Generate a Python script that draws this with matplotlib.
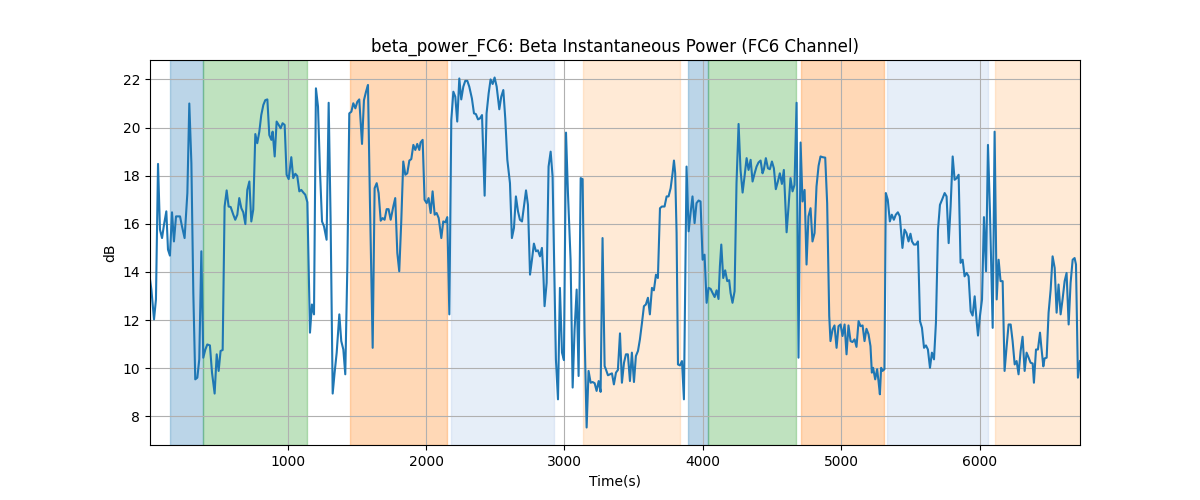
import numpy as np
import matplotlib
matplotlib.use("Agg")
import matplotlib.pyplot as plt

# Beta power trace (time in s, power in dB)
times = [5, 15, 34, 48, 63, 77, 92, 106, 123, 135, 149, 164, 178, 193, 222, 236, 255, 275, 289, 304,
         318, 332, 347, 361, 376, 390, 405, 419, 438, 453, 472, 487, 501, 515, 530, 544, 559, 573, 588, 607,
         621, 636, 650, 665, 679, 694, 708, 723, 737, 751, 766, 780, 795, 809, 824, 838, 853, 867, 882, 891,
         906, 920, 935, 949, 963, 978, 992, 1007, 1026, 1040, 1055, 1069, 1084, 1098, 1113, 1127, 1142, 1161, 1175, 1190,
         1204, 1219, 1233, 1248, 1262, 1281, 1296, 1310, 1325, 1339, 1354, 1373, 1387, 1402, 1416, 1431, 1445, 1460, 1474, 1489,
         1503, 1517, 1537, 1551, 1566, 1580, 1594, 1614, 1628, 1643, 1657, 1672, 1686, 1700, 1715, 1729, 1744, 1763, 1777, 1792,
         1806, 1821, 1835, 1850, 1864, 1879, 1893, 1908, 1922, 1936, 1951, 1960, 1975, 1989, 2004, 2018, 2033, 2047, 2062, 2076,
         2091, 2110, 2124, 2139, 2153, 2168, 2182, 2197, 2211, 2225, 2240, 2254, 2269, 2283, 2298, 2312, 2331, 2346, 2360, 2375,
         2389, 2404, 2423, 2437, 2452, 2466, 2481, 2495, 2510, 2529, 2543, 2558, 2572, 2587, 2606, 2620, 2635, 2649, 2664, 2678,
         2693, 2707, 2722, 2736, 2751, 2765, 2779, 2794, 2808, 2823, 2837, 2847, 2856, 2871, 2885, 2900, 2914, 2929, 2938, 2953,
         2967, 2982, 2996, 3011, 3025, 3044, 3059, 3073, 3088, 3102, 3117, 3131, 3145, 3160, 3174, 3189, 3203, 3218, 3232, 3247,
         3261, 3275, 3290, 3299, 3314, 3328, 3343, 3357, 3372, 3386, 3401, 3415, 3430, 3444, 3458, 3473, 3487, 3502, 3516, 3531,
         3545, 3560, 3574, 3588, 3603, 3617, 3632, 3646, 3661, 3675, 3690, 3704, 3723, 3738, 3752, 3767, 3781, 3791, 3800, 3810,
         3820, 3834, 3849, 3863, 3882, 3897, 3911, 3925, 3940, 3954, 3969, 3983, 3998, 4012, 4027, 4041, 4056, 4070, 4085, 4099,
         4113, 4123, 4133, 4147, 4161, 4176, 4190, 4200, 4214, 4229, 4243, 4258, 4272, 4287, 4301, 4316, 4330, 4345, 4359, 4374,
         4388, 4402, 4417, 4431, 4441, 4455, 4470, 4484, 4499, 4513, 4527, 4542, 4556, 4571, 4585, 4605, 4619, 4633, 4648, 4662,
         4677, 4691, 4706, 4720, 4735, 4749, 4763, 4778, 4792, 4807, 4821, 4836, 4850, 4865, 4884, 4898, 4913, 4922, 4937, 4951,
         4966, 4980, 4995, 5009, 5024, 5038, 5052, 5067, 5081, 5096, 5110, 5125, 5139, 5154, 5168, 5182, 5197, 5211, 5221, 5230,
         5245, 5259, 5269, 5279, 5288, 5298, 5312, 5322, 5336, 5351, 5365, 5380, 5394, 5409, 5423, 5442, 5457, 5471, 5486, 5500,
         5511, 5525, 5540, 5554, 5569, 5583, 5598, 5612, 5626, 5641, 5655, 5670, 5684, 5699, 5713, 5728, 5747, 5761, 5776, 5790,
         5805, 5819, 5834, 5848, 5862, 5877, 5891, 5906, 5920, 5935, 5949, 5964, 5978, 5988, 6002, 6017, 6031, 6046, 6060, 6074,
         6094, 6108, 6123, 6137, 6151, 6166, 6180, 6195, 6209, 6224, 6238, 6253, 6267, 6281, 6296, 6310, 6325, 6339, 6354, 6368,
         6383, 6392, 6407, 6421, 6436, 6445, 6460, 6469, 6484, 6498, 6513, 6527, 6542, 6556, 6570, 6585, 6599, 6614, 6628, 6643,
         6657, 6672, 6686, 6696, 6710, 6725]
power_db = [13.7, 13.27, 12.03, 12.86, 18.49, 15.76, 15.41, 15.96, 16.52, 14.93, 14.68, 16.48, 15.27, 16.31, 16.31, 15.9, 15.41, 17.28, 21.0, 18.52,
            13.13, 9.54, 9.61, 10.37, 14.86, 10.44, 10.78, 10.99, 10.95, 9.82, 8.95, 10.58, 9.89, 10.72, 10.76, 16.72, 17.39, 16.72, 16.70, 16.38,
            16.17, 16.38, 17.07, 16.65, 16.48, 15.99, 17.41, 17.76, 16.10, 16.59, 19.73, 19.35, 19.83, 20.52, 20.94, 21.14, 21.17, 19.69, 19.49, 19.83,
            18.80, 20.25, 20.11, 19.97, 20.18, 20.11, 18.04, 17.86, 18.77, 17.90, 18.08, 17.99, 17.35, 17.41, 17.30, 17.21, 16.9, 11.48, 12.65, 12.24,
            21.63, 20.87, 18.24, 16.10, 15.9, 15.34, 21.03, 16.17, 8.95, 9.82, 10.65, 12.24, 11.13, 10.78, 9.75, 14.24, 20.59, 20.66, 21.01, 20.80,
            21.07, 21.17, 19.32, 21.14, 21.49, 21.77, 17.0, 10.85, 17.48, 17.69, 17.28, 16.13, 16.24, 16.17, 16.61, 16.61, 16.17, 16.72, 17.07, 14.79,
            14.03, 16.17, 18.59, 18.04, 18.10, 18.63, 18.69, 19.28, 19.07, 19.32, 19.07, 19.38, 19.49, 17.0, 16.86, 17.07, 16.45, 17.35, 16.38, 16.45,
            16.24, 15.41, 16.10, 16.06, 16.28, 12.24, 20.31, 21.49, 21.28, 20.25, 22.04, 21.17, 21.70, 21.94, 21.94, 21.70, 21.21, 20.59, 20.56, 20.34,
            20.38, 20.52, 17.17, 20.59, 21.42, 22.0, 21.81, 22.08, 21.70, 20.76, 21.28, 21.56, 20.38, 18.66, 17.69, 15.41, 15.83, 17.14, 16.52, 16.17,
            16.10, 16.72, 17.39, 16.79, 13.89, 14.51, 15.18, 14.86, 14.90, 14.65, 15.0, 13.96, 12.58, 13.55, 18.38, 19.0, 17.97, 13.13, 10.37, 8.71,
            13.34, 10.65, 10.34, 19.79, 17.28, 14.51, 9.20, 11.61, 13.27, 9.68, 17.90, 17.86, 11.48, 7.54, 9.89, 9.40, 9.43, 9.38, 9.06, 9.47,
            9.02, 15.41, 10.09, 9.96, 9.71, 9.75, 9.79, 9.33, 9.82, 9.93, 11.45, 9.40, 10.23, 10.58, 10.58, 9.47, 10.65, 9.43, 10.51, 10.72,
            11.20, 11.89, 12.58, 12.65, 12.93, 12.24, 13.34, 13.24, 13.89, 13.75, 16.65, 16.72, 16.72, 17.14, 17.14, 17.48, 18.10, 18.63, 18.10, 15.62,
            10.16, 10.12, 10.30, 8.71, 18.38, 15.69, 16.45, 17.14, 16.03, 16.86, 16.97, 16.93, 14.51, 14.72, 12.72, 13.34, 13.30, 13.13, 12.96, 13.24,
            12.88, 14.24, 15.14, 13.75, 14.07, 13.62, 13.66, 13.13, 12.72, 13.20, 17.69, 20.15, 18.24, 17.30, 17.97, 18.73, 18.24, 18.66, 17.76, 18.10,
            18.38, 18.55, 18.63, 18.10, 18.27, 18.73, 18.31, 18.27, 18.59, 18.31, 17.44, 17.76, 18.10, 17.66, 18.24, 15.65, 16.72, 17.90, 17.35, 17.62,
            21.03, 10.44, 19.38, 16.93, 17.41, 14.31, 16.31, 16.65, 15.27, 15.62, 17.55, 18.41, 18.80, 18.77, 18.75, 16.86, 12.17, 11.13, 11.61, 11.78,
            10.85, 11.75, 11.82, 11.34, 11.82, 10.58, 11.78, 11.13, 11.09, 11.20, 10.89, 11.96, 11.75, 11.78, 11.13, 11.64, 11.41, 10.92, 9.82, 10.02,
            9.54, 9.96, 9.47, 8.92, 10.02, 9.89, 9.96, 17.28, 17.0, 16.10, 16.38, 16.17, 16.38, 16.48, 16.31, 15.0, 15.76, 15.62, 15.27, 15.59,
            15.27, 15.14, 15.14, 15.27, 11.96, 11.68, 10.85, 10.95, 10.78, 10.02, 10.65, 10.37, 11.89, 15.76, 16.79, 17.0, 17.28, 17.14, 15.20, 16.72,
            18.80, 17.83, 17.90, 18.04, 14.38, 14.51, 13.82, 13.96, 13.82, 12.37, 12.19, 12.99, 11.96, 11.36, 12.17, 12.86, 16.28, 14.03, 19.28, 16.59,
            11.68, 19.83, 12.86, 14.51, 13.62, 13.62, 9.89, 10.92, 11.82, 11.82, 11.13, 10.16, 10.30, 9.75, 10.72, 11.31, 9.89, 10.65, 10.44, 10.23,
            10.20, 9.40, 10.78, 10.78, 11.48, 10.92, 10.08, 10.41, 10.44, 12.31, 13.27, 14.65, 14.17, 12.31, 13.48, 12.24, 12.86, 13.62, 13.96, 11.82,
            13.55, 14.51, 14.58, 14.31, 9.61, 10.30]

# Task segments (start, end, colour)
seg_start = [150, 386, 1450, 2180, 3133, 3892, 4036, 4708, 5327, 6112]
seg_end = [386, 1142, 2149, 2921, 3834, 4036, 4673, 5310, 6060, 6760]
seg_color = ['tab:blue', 'tab:green', 'tab:orange', '#aec7e8', '#ffbb78',
             'tab:blue', 'tab:green', 'tab:orange', '#aec7e8', '#ffbb78']

fig, ax = plt.subplots(figsize=(12, 5), dpi=100)

for s, e, c in zip(seg_start, seg_end, seg_color):
    ax.axvspan(s, e, color=c, alpha=0.3)

ax.plot(times, power_db, color='tab:blue', linewidth=1.5)

ax.set_xlim(times[0], times[-1])
ax.set_title("beta_power_FC6: Beta Instantaneous Power (FC6 Channel)")
ax.set_xlabel("Time(s)")
ax.set_ylabel("dB")
ax.grid(True)

plt.savefig("out.png")
